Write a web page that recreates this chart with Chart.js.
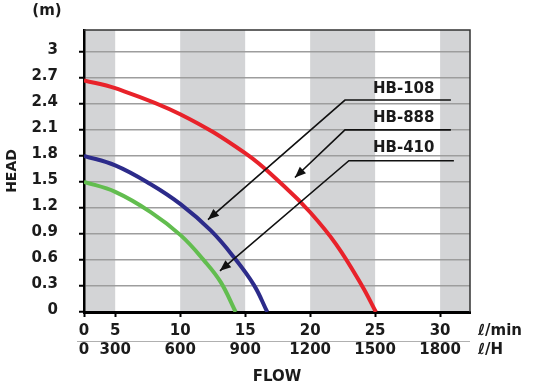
<!DOCTYPE html>
<html><head><meta charset="utf-8">
<script src="https://cdn.jsdelivr.net/npm/chart.js@4/dist/chart.umd.min.js"></script>
<style>html,body{margin:0;padding:0;background:#fff;}#wrap{width:535px;height:390px;position:relative;}</style>
</head><body><div id="wrap"><canvas id="c" width="535" height="390"></canvas></div>
<script>
// ---- data ----
const flowTicks = [0, 5, 10, 15, 20, 25, 30];
const flowLpmLabels = ['0', '5', '10', '15', '20', '25', '30'];
const flowLphLabels = ['0', '300', '600', '900', '1200', '1500', '1800'];
const headTicks = [0, 0.3, 0.6, 0.9, 1.2, 1.5, 1.8, 2.1, 2.4, 2.7, 3];
const headLabels = ['0', '0.3', '0.6', '0.9', '1.2', '1.5', '1.8', '2.1', '2.4', '2.7', '3'];
const seriesNames = ['HB-108', 'HB-888', 'HB-410'];

const hb108Flow = [0, 5, 10, 15, 18, 20, 22, 24, 25.06];
const hb108Head = [2.67, 2.58, 2.28, 1.83, 1.45, 1.15, 0.78, 0.30, 0];
const hb888Flow = [0, 5, 7.7, 10.05, 12.35, 14.14, 15.68, 16.7];
const hb888Head = [1.80, 1.69, 1.475, 1.24, 0.94, 0.63, 0.31, 0];
const hb410Flow = [0, 5, 7.73, 10.05, 11.83, 13.12, 14.27];
const hb410Head = [1.50, 1.385, 1.152, 0.883, 0.595, 0.344, 0];

// callout arrows: label position, line start/end, arrow tip (flow, head)
const calloutLabelFlow = [27.2, 27.2, 27.2];
const calloutLabelHead = [2.567, 2.233, 1.894];
const calloutLineStartFlow = [22.68, 22.68, 22.98];
const calloutLineEndFlow = [30.83, 30.83, 31.06];
const calloutLineHead = [2.443, 2.099, 1.743];
const calloutTipFlow = [12.14, 18.83, 13.06];
const calloutTipHead = [1.065, 1.55, 0.474];

// ---- axis: first interval (0-5) is drawn compressed in the reference ----
const AXIS_MIN = 2.6, AXIS_MAX = 32.3;
function axisPos(f) { return f < 5 ? AXIS_MIN + f * (5 - AXIS_MIN) / 5 : f; }
function pts(fx, hy) { return fx.map((f, i) => ({ x: axisPos(f), y: hy[i] })); }

const FONT = '"DejaVu Sans", "Open Sans", sans-serif';
const TXT = '#1b1b1b';

const decor = {
  id: 'decor',
  beforeDraw(chart) {
    const { ctx, chartArea: a, scales: { x } } = chart;
    ctx.save();
    ctx.fillStyle = '#d3d4d6';
    for (let i = 0; i < flowTicks.length; i += 2) {
      const x0 = x.getPixelForValue(axisPos(flowTicks[i]));
      const x1 = i + 1 < flowTicks.length ? x.getPixelForValue(axisPos(flowTicks[i + 1])) : a.right;
      ctx.fillRect(x0, a.top, x1 - x0, a.bottom - a.top);
    }
    ctx.restore();
  },
  afterDraw(chart) {
    const { ctx, chartArea: a, scales: { x, y } } = chart;
    ctx.save();
    ctx.strokeStyle = '#333';
    ctx.lineWidth = 1.5;
    ctx.beginPath();
    ctx.moveTo(a.left, a.top); ctx.lineTo(a.right, a.top); ctx.lineTo(a.right, a.bottom);
    ctx.stroke();
    ctx.strokeStyle = '#b0b0b0';
    ctx.lineWidth = 1;
    ctx.beginPath(); ctx.moveTo(77, 341.5); ctx.lineTo(a.right, 341.5); ctx.stroke();
    ctx.fillStyle = TXT;
    ctx.font = 'bold 15px ' + FONT;
    ctx.textBaseline = 'middle';
    ctx.textAlign = 'left';
    ctx.fillText('ℓ/min', 478, 331);
    ctx.fillText('ℓ/H', 478, 350);
    ctx.textAlign = 'center';
    ctx.fillText('(m)', 47, 11);
    for (let i = 0; i < seriesNames.length; i++) {
      const lx = x.getPixelForValue(calloutLabelFlow[i]);
      const ly = y.getPixelForValue(calloutLabelHead[i]);
      ctx.fillStyle = TXT;
      ctx.textAlign = 'center';
      ctx.fillText(seriesNames[i], lx, ly);
      const sx = x.getPixelForValue(calloutLineStartFlow[i]);
      const ex = x.getPixelForValue(calloutLineEndFlow[i]);
      const sy = y.getPixelForValue(calloutLineHead[i]);
      const tx = x.getPixelForValue(calloutTipFlow[i]);
      const ty = y.getPixelForValue(calloutTipHead[i]);
      ctx.strokeStyle = '#111';
      ctx.lineWidth = 1.6;
      ctx.beginPath(); ctx.moveTo(ex, sy); ctx.lineTo(sx, sy); ctx.lineTo(tx, ty); ctx.stroke();
      const ang = Math.atan2(ty - sy, tx - sx);
      const L = 11, W = 4.5;
      ctx.fillStyle = '#111';
      ctx.beginPath();
      ctx.moveTo(tx, ty);
      ctx.lineTo(tx - L * Math.cos(ang) + W * Math.sin(ang), ty - L * Math.sin(ang) - W * Math.cos(ang));
      ctx.lineTo(tx - L * Math.cos(ang) - W * Math.sin(ang), ty - L * Math.sin(ang) + W * Math.cos(ang));
      ctx.closePath(); ctx.fill();
    }
    ctx.restore();
  }
};

const lineDs = (label, data, color) => ({
  label, data, borderColor: color, borderWidth: 4, pointRadius: 0,
  tension: 0.4, fill: false
});

new Chart(document.getElementById('c'), {
  type: 'line',
  data: {
    datasets: [
      lineDs(seriesNames[0], pts(hb108Flow, hb108Head), '#e8222a'),
      lineDs(seriesNames[1], pts(hb888Flow, hb888Head), '#2c2b8a'),
      lineDs(seriesNames[2], pts(hb410Flow, hb410Head), '#62bd4f')
    ]
  },
  options: {
    responsive: false,
    animation: false,
    devicePixelRatio: 1,
    layout: { padding: { top: 10, right: 65, bottom: 0, left: 0 } },
    plugins: { legend: { display: false }, tooltip: { enabled: false } },
    scales: {
      x: {
        type: 'linear', min: AXIS_MIN, max: AXIS_MAX,
        afterBuildTicks: s => { s.ticks = flowTicks.map(f => ({ value: axisPos(f) })); },
        afterFit: s => { s.height = 78; },
        ticks: {
          callback: (v, i) => [flowLpmLabels[i], flowLphLabels[i]],
          font: { family: FONT, size: 15, weight: 'bold', lineHeight: '19px' },
          color: TXT, padding: 5, maxRotation: 0, autoSkip: false
        },
        grid: { drawOnChartArea: false, tickLength: 5, tickColor: '#000', tickWidth: 2 },
        border: { color: '#000', width: 3 },
        title: { display: true, text: 'FLOW', color: TXT,
          font: { family: FONT, size: 15, weight: 'bold' }, padding: { top: 0, bottom: 4 } }
      },
      y: {
        type: 'linear', min: 0, max: 3.25,
        afterBuildTicks: s => { s.ticks = headTicks.map(v => ({ value: v })); },
        afterFit: s => { s.width = 84; },
        ticks: {
          callback: (v, i) => headLabels[i],
          font: { family: FONT, size: 15, weight: 'bold' },
          color: TXT, padding: 21, labelOffset: -2
        },
        grid: { color: '#9d9d9d', lineWidth: 1.5, tickLength: 5, tickColor: '#000', tickWidth: 2 },
        border: { color: '#000', width: 2.5 },
        title: { display: true, text: 'HEAD', color: TXT,
          font: { family: FONT, size: 14, weight: 'bold' }, padding: { top: 4, bottom: 0 } }
      }
    }
  },
  plugins: [decor]
});
</script></body></html>
